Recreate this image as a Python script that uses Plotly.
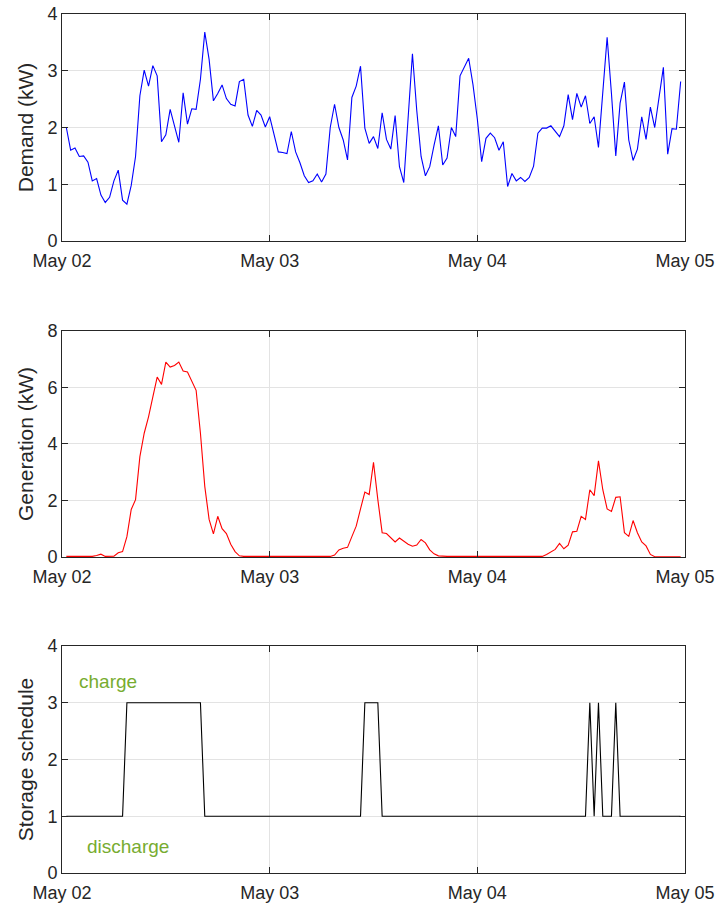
import pandas as pd
import plotly.graph_objects as go

# Half-hourly samples from May 02 00:30 to May 04 23:30
times = pd.date_range("2016-05-02 00:30", periods=143, freq="30min")

demand_kw = [
    2.00, 1.60, 1.64, 1.49, 1.50, 1.39, 1.06, 1.10, 0.81, 0.68,
    0.77, 1.06, 1.25, 0.72, 0.65, 0.98, 1.49, 2.56, 3.01, 2.73,
    3.09, 2.91, 1.75, 1.87, 2.32, 2.04, 1.74, 2.61, 2.06, 2.33,
    2.32, 2.85, 3.68, 3.20, 2.47, 2.60, 2.75, 2.51, 2.41, 2.38,
    2.81, 2.85, 2.22, 2.02, 2.30, 2.22, 2.01, 2.19, 1.88, 1.57,
    1.56, 1.54, 1.93, 1.57, 1.38, 1.15, 1.03, 1.06, 1.18, 1.04,
    1.18, 2.00, 2.41, 2.00, 1.78, 1.43, 2.53, 2.73, 3.08, 1.99,
    1.72, 1.84, 1.63, 2.26, 1.79, 1.62, 2.21, 1.31, 1.03, 2.20,
    3.30, 2.30, 1.49, 1.15, 1.31, 1.69, 2.03, 1.34, 1.46, 2.00,
    1.84, 2.91, 3.06, 3.22, 2.75, 2.15, 1.40, 1.81, 1.90, 1.82,
    1.60, 1.75, 0.96, 1.19, 1.06, 1.12, 1.05, 1.12, 1.32, 1.90,
    1.99, 1.99, 2.03, 1.93, 1.84, 2.03, 2.58, 2.14, 2.60, 2.36,
    2.56, 2.07, 2.19, 1.65, 2.60, 3.59, 2.60, 1.50, 2.43, 2.80,
    1.78, 1.42, 1.62, 2.19, 1.79, 2.36, 2.00, 2.54, 3.06, 1.53,
    1.98, 1.97, 2.81,
]

generation_kw = [
    0.02, 0.02, 0.02, 0.02, 0.02, 0.02, 0.02, 0.05, 0.10, 0.02,
    0.02, 0.03, 0.15, 0.19, 0.72, 1.68, 2.03, 3.55, 4.38, 4.96,
    5.67, 6.37, 6.11, 6.90, 6.72, 6.78, 6.90, 6.58, 6.55, 6.25,
    5.90, 4.38, 2.50, 1.33, 0.82, 1.44, 1.00, 0.83, 0.45, 0.19,
    0.04, 0.02, 0.02, 0.02, 0.02, 0.02, 0.02, 0.02, 0.02, 0.02,
    0.02, 0.02, 0.02, 0.02, 0.02, 0.02, 0.02, 0.02, 0.02, 0.02,
    0.02, 0.02, 0.07, 0.25, 0.31, 0.34, 0.72, 1.09, 1.70, 2.30,
    2.21, 3.35, 2.03, 0.86, 0.83, 0.68, 0.53, 0.67, 0.55, 0.45,
    0.38, 0.42, 0.62, 0.50, 0.25, 0.11, 0.04, 0.02, 0.02, 0.02,
    0.02, 0.02, 0.02, 0.02, 0.02, 0.02, 0.02, 0.02, 0.02, 0.02,
    0.02, 0.02, 0.02, 0.02, 0.02, 0.02, 0.02, 0.02, 0.02, 0.02,
    0.02, 0.09, 0.18, 0.27, 0.48, 0.29, 0.42, 0.89, 0.91, 1.44,
    1.33, 2.38, 2.17, 3.40, 2.38, 1.70, 1.61, 2.11, 2.13, 0.86,
    0.73, 1.29, 0.86, 0.53, 0.39, 0.09, 0.01, 0.01, 0.01, 0.01,
    0.01, 0.01, 0.01,
]

# 1 = discharge, 3 = charge
storage_state = [
    1, 1, 1, 1, 1, 1, 1, 1, 1, 1, 1, 1, 1, 1,
    3, 3, 3, 3, 3, 3, 3, 3, 3, 3, 3, 3, 3, 3, 3, 3, 3, 3,
    1, 1, 1, 1, 1, 1, 1, 1, 1, 1, 1, 1, 1, 1, 1, 1, 1, 1, 1,
    1, 1, 1, 1, 1, 1, 1, 1, 1, 1, 1, 1, 1, 1, 1, 1, 1, 1,
    3, 3, 3, 3,
    1, 1, 1, 1, 1, 1, 1, 1, 1, 1, 1, 1, 1, 1, 1, 1, 1, 1, 1, 1, 1, 1, 1, 1,
    1, 1, 1, 1, 1, 1, 1, 1, 1, 1, 1, 1, 1, 1, 1, 1, 1, 1, 1, 1, 1, 1, 1, 1,
    3, 1, 3, 1, 1, 1, 3,
    1, 1, 1, 1, 1, 1, 1, 1, 1, 1, 1, 1, 1, 1, 1,
]

day_ticks = ["2016-05-02", "2016-05-03", "2016-05-04", "2016-05-05"]
y_ticks_demand = [0, 1, 2, 3, 4]
y_ticks_generation = [0, 2, 4, 6, 8]
y_ticks_storage = [0, 1, 2, 3, 4]

FONT = "Liberation Sans, Arial, sans-serif"
INK = "#262626"
GRID = "#e3e3e3"

fig = go.Figure()
fig.add_trace(go.Scatter(x=times, y=demand_kw, mode="lines",
                         line=dict(color="#0000ff", width=1.1),
                         xaxis="x", yaxis="y", showlegend=False))
fig.add_trace(go.Scatter(x=times, y=generation_kw, mode="lines",
                         line=dict(color="#ff0000", width=1.1),
                         xaxis="x2", yaxis="y2", showlegend=False))
fig.add_trace(go.Scatter(x=times, y=storage_state, mode="lines",
                         line=dict(color="#000000", width=1.1),
                         xaxis="x3", yaxis="y3", showlegend=False))

common = dict(
    showline=True, linecolor=INK, linewidth=1, mirror="ticks",
    ticks="inside", ticklen=6, tickcolor=INK, tickwidth=1,
    showgrid=True, gridcolor=GRID, gridwidth=1, zeroline=False,
    automargin=False,
    tickfont=dict(family=FONT, size=18, color=INK),
)

def x_axis(anchor):
    return dict(common, type="date", anchor=anchor,
                range=[day_ticks[0], day_ticks[-1]],
                tickvals=day_ticks, tickformat="%b %d",
                ticklabelstandoff=3)

def y_axis(anchor, domain, ticks, top, title):
    return dict(common, anchor=anchor, domain=domain,
                range=[0, top], tickvals=ticks,
                title=dict(text=title, standoff=8,
                           font=dict(family=FONT, size=21, color=INK)))

fig.update_layout(
    template="none",
    width=721, height=905,
    margin=dict(l=62, r=36, t=14, b=32),
    paper_bgcolor="white", plot_bgcolor="white",
    xaxis=x_axis("y"),
    xaxis2=x_axis("y2"),
    xaxis3=x_axis("y3"),
    yaxis=y_axis("x", [0.7357, 1.0], y_ticks_demand, 4, "Demand (kW)"),
    yaxis2=y_axis("x2", [0.3679, 0.6310], y_ticks_generation, 8, "Generation (kW)"),
    yaxis3=y_axis("x3", [0.0, 0.2643], y_ticks_storage, 4, "Storage schedule"),
    annotations=[
        dict(text="charge", x="2016-05-02 01:51", y=3.38, xref="x3", yref="y3",
             xanchor="left", yanchor="middle", showarrow=False, borderpad=0,
             font=dict(family=FONT, size=19, color="#77ac30")),
        dict(text="discharge", x="2016-05-02 02:46", y=0.46, xref="x3", yref="y3",
             xanchor="left", yanchor="middle", showarrow=False, borderpad=0,
             font=dict(family=FONT, size=19, color="#77ac30")),
    ],
)

fig.write_html("out.html")
